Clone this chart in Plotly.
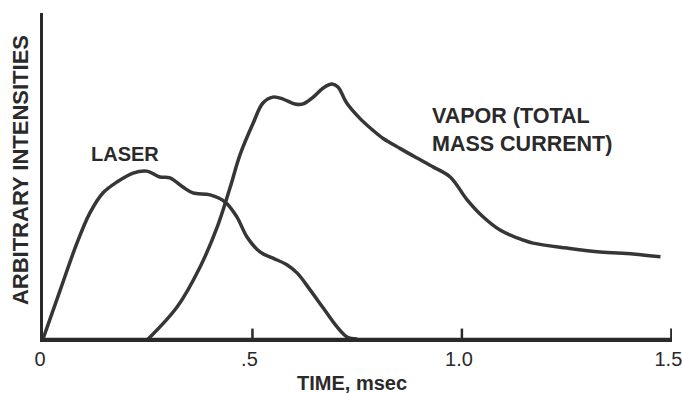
import plotly.graph_objects as go

# Laser pulse intensity (arbitrary units, 0-100 = axis height)
laser_t = [0.0, 0.041, 0.081, 0.112, 0.143, 0.177, 0.215, 0.248, 0.279, 0.303,
           0.334, 0.358, 0.399, 0.435, 0.463, 0.487, 0.518, 0.549, 0.583, 0.607,
           0.638, 0.669, 0.702, 0.726, 0.750]
laser_i = [0.0, 15.0, 29.4, 38.7, 44.8, 48.2, 50.9, 51.5, 49.7, 49.4,
           46.6, 44.8, 44.2, 42.0, 37.4, 31.3, 26.7, 24.8, 22.7, 20.2,
           15.0, 9.5, 3.7, 0.6, 0.0]

# Vapor (total mass current)
vapor_t = [0.251, 0.320, 0.375, 0.416, 0.447, 0.470, 0.501, 0.525, 0.549, 0.573,
           0.601, 0.621, 0.645, 0.669, 0.690, 0.704, 0.725, 0.757, 0.785, 0.812,
           0.853, 0.893, 0.931, 0.972, 1.013, 1.051, 1.091, 1.132, 1.170, 1.251,
           1.330, 1.409, 1.474]
vapor_i = [0.0, 9.8, 22.1, 34.4, 46.6, 56.4, 66.0, 72.4, 74.2, 73.6,
           72.1, 72.1, 74.2, 77.0, 78.2, 77.3, 72.4, 67.6, 64.3, 61.5,
           58.4, 55.5, 52.8, 49.7, 42.6, 37.4, 33.4, 31.0, 29.4, 27.9,
           26.7, 26.1, 25.2]

tick_vals = [0, 0.5, 1.0, 1.5]
tick_text = ["0", ".5", "1.0", "1.5"]

ink = "#2a2a2a"
font_fam = "Liberation Sans, Arial, sans-serif"

fig = go.Figure()
fig.add_trace(go.Scatter(x=laser_t, y=laser_i, mode="lines",
                         line=dict(color="#363636", width=3.5, shape="spline", smoothing=1.0),
                         hoverinfo="skip", showlegend=False))
fig.add_trace(go.Scatter(x=vapor_t, y=vapor_i, mode="lines",
                         line=dict(color="#363636", width=3.5, shape="spline", smoothing=1.0),
                         hoverinfo="skip", showlegend=False))

# baseline (time axis) and small upward tick marks at the labelled times
fig.add_shape(type="line", xref="x", yref="y", x0=tick_vals[0], x1=tick_vals[-1], y0=0, y1=0,
              layer="above", line=dict(color=ink, width=2.5))
for tv in tick_vals[1:]:
    fig.add_shape(type="line", xref="x", yref="y", x0=tv, x1=tv, y0=0, y1=3.2,
                  layer="above", line=dict(color=ink, width=2.5))

fig.update_layout(
    width=682, height=393,
    margin=dict(l=43, r=10, t=13, b=54, autoexpand=False),
    paper_bgcolor="white", plot_bgcolor="white",
    font=dict(family=font_fam, color=ink, size=20),
    xaxis=dict(range=[0, 1.5015], tickmode="array", tickvals=tick_vals, ticktext=tick_text,
               ticks="", ticklabeloverflow="allow", ticklabelshift=-3, automargin=False,
               showline=True, linecolor=ink, linewidth=2.5,
               showgrid=False, zeroline=False, fixedrange=True,
               tickfont=dict(size=20, color=ink)),
    yaxis=dict(range=[0, 100], showticklabels=False, ticks="", automargin=False,
               showline=True, linecolor=ink, linewidth=2.5,
               showgrid=False, zeroline=False, fixedrange=True),
    annotations=[
        dict(text="<b>ARBITRARY INTENSITIES</b>", x=-0.0366, y=0.518, xref="paper", yref="paper",
             textangle=-90, showarrow=False, xanchor="center", yanchor="middle",
             font=dict(size=22, color=ink, family=font_fam)),
        dict(text="<b>LASER</b>", x=0.196, y=56.7, xref="x", yref="y",
             showarrow=False, xanchor="center", yanchor="middle",
             font=dict(size=20, color=ink, family=font_fam)),
        dict(text="<b>VAPOR (TOTAL<br>MASS CURRENT)</b>", x=0.924, y=64.1, xref="x", yref="y",
             showarrow=False, xanchor="left", yanchor="middle", align="left",
             font=dict(size=21.5, color=ink, family=font_fam)),
        dict(text="<b>TIME, msec</b>", x=(352 - 43) / 629, y=-(383 - 339) / 326,
             xref="paper", yref="paper",
             showarrow=False, xanchor="center", yanchor="middle",
             font=dict(size=20, color=ink, family=font_fam)),
    ],
)

fig.write_html("out.html")
